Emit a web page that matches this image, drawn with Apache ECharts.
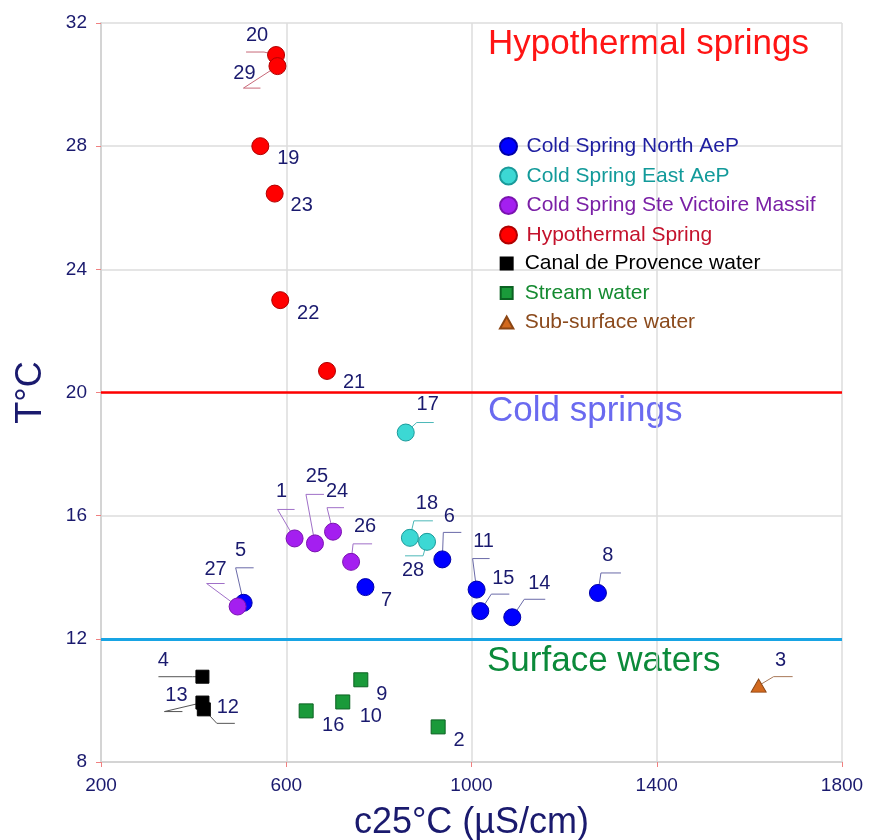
<!DOCTYPE html>
<html style="height: 100%">
<head>
<meta charset="utf-8">
</head>
<body style="height: 100%; margin: 0; background: #fff">
<div id="container" style="width: 871px; height: 840px"></div>
<script src="https://cdn.jsdelivr.net/npm/echarts@6/dist/echarts.min.js"></script>
<script type="text/javascript">
// [conductivity uS/cm, temperature C, sample id]
var northAeP = [[508, 13.17, '5'], [771, 13.68, '7'], [937, 14.58, '6'], [1011, 13.6, '11'], [1019, 12.9, '15'], [1088, 12.7, '14'], [1273, 13.49, '8']];
var eastAeP = [[858, 18.7, '17'], [867, 15.28, '18'], [904, 15.15, '28']];
var steVictoire = [[618, 15.26, '1'], [662, 15.1, '25'], [701, 15.48, '24'], [740, 14.5, '26'], [495, 13.05, '27']];
var hypothermal = [[578, 30.96, '20'], [581, 30.6, '29'], [544, 28.0, '19'], [575, 26.46, '23'], [587, 23.0, '22'], [688, 20.7, '21']];
var canal = [[419, 10.77, '4'], [419, 9.93, '13'], [422, 9.71, '12']];
var stream = [[643, 9.66, '16'], [722, 9.95, '10'], [761, 10.67, '9'], [928, 9.14, '2']];
var subSurface = [[1620, 10.48, '3']];

var hypoLimit = 20;
var surfaceLimit = 12;
var xTicks = [200, 1800, 400];
var yTicks = [8, 32, 4];

// label placement (pixel offsets from the point)
var labelOffsets = {
    '20': [-19, -20], '29': [-33, 7], '19': [28, 12], '23': [27, 12], '22': [28, 13], '21': [27, 12],
    '1': [-13, -47], '25': [2, -67], '24': [4, -40], '26': [14, -35], '7': [21, 13], '5': [-3, -52], '27': [-22, -37],
    '18': [17, -34], '28': [-14, 29], '6': [7, -43], '17': [22, -28], '11': [7, -48], '15': [23, -33], '14': [27, -34],
    '8': [10, -37], '4': [-39, -16], '13': [-26, -7], '12': [24, -2], '16': [27, 15], '10': [28, 15], '9': [21, 15],
    '2': [21, 14], '3': [22, -25]
};
// leader lines: elbow and end, pixel offsets from the point
var leaders = {
    '20': [[-12, -3], [-30, -3]], '29': [[-34, 22], [-17, 22]],
    '1': [[-17, -29], [0, -29]], '25': [[-9, -49], [9, -49]], '24': [[-6, -24], [11, -24]], '26': [[2, -18], [21, -18]],
    '5': [[-8, -35], [10, -35]], '27': [[-31, -23], [-13, -23]], '18': [[4, -17], [23, -17]], '28': [[-4, 14], [-22, 14]],
    '6': [[1, -27], [19, -27]], '17': [[11, -10], [28, -10]], '11': [[-4, -31], [13, -31]], '15': [[11, -17], [29, -17]],
    '14': [[12, -18], [33, -18]], '8': [[3, -20], [23, -20]], '4': [[-10, 0], [-44, 0]], '13': [[-38, 9], [-20, 9]],
    '12': [[13, 14], [31, 14]], '3': [[15, -9], [34, -9]]
};

var groups = [
    {name: 'Cold Spring North AeP', data: northAeP, symbol: 'circle', size: 17, color: '#0000ff', border: '#0000a8', text: '#1e1ea0', line: '#6a6aa8'},
    {name: 'Cold Spring East AeP', data: eastAeP, symbol: 'circle', size: 17, color: '#3cd8d4', border: '#1a9a9a', text: '#129a9a', line: '#4cb8b8'},
    {name: 'Cold Spring Ste Victoire Massif', data: steVictoire, symbol: 'circle', size: 17, color: '#a41ff0', border: '#7a12b0', text: '#7a20a6', line: '#a070c8'},
    {name: 'Hypothermal Spring', data: hypothermal, symbol: 'circle', size: 17, color: '#ff0000', border: '#b00000', text: '#c4122c', line: '#c86878'},
    {name: 'Canal de Provence water', data: canal, symbol: 'rect', size: 13, color: '#000000', border: '#000000', text: '#000000', line: '#555555'},
    {name: 'Stream water', data: stream, symbol: 'rect', size: 14, color: '#1a9a3a', border: '#0b6222', text: '#148a30', line: '#5a9a6a'},
    {name: 'Sub-surface water', data: subSurface, symbol: 'path://M5,0L10,9H0Z', size: [15, 13], color: '#d2691e', border: '#8b4513', text: '#8b4a1c', line: '#a87858'}
];

var navy = '#1a1a6e';
var font = '"Liberation Sans", Arial, sans-serif';

var leaderList = [];
groups.forEach(function (g) {
    g.data.forEach(function (d) {
        if (leaders[d[2]]) leaderList.push({value: [d[0], d[1]], id: d[2], color: g.line});
    });
});

var series = [{
    type: 'custom',
    name: 'leaders',
    coordinateSystem: 'cartesian2d',
    silent: true,
    z: 1,
    encode: {x: 0, y: 1},
    data: leaderList.map(function (l) { return l.value; }),
    renderItem: function (params, api) {
        var item = leaderList[params.dataIndex];
        var p = api.coord([api.value(0), api.value(1)]);
        var l = leaders[item.id];
        return {
            type: 'polyline',
            shape: {points: [p, [p[0] + l[0][0], p[1] + l[0][1]], [p[0] + l[1][0], p[1] + l[1][1]]]},
            style: {stroke: item.color, fill: null, lineWidth: 1}
        };
    },
    markLine: {
        silent: true,
        symbol: 'none',
        label: {show: false},
        data: [
            {yAxis: hypoLimit, lineStyle: {color: '#ff0000', width: 2.5, type: 'solid'}},
            {yAxis: surfaceLimit, lineStyle: {color: '#18a4e4', width: 3, type: 'solid'}}
        ]
    }
}];

groups.forEach(function (g) {
    series.push({
        type: 'scatter',
        name: g.name,
        symbol: g.symbol,
        symbolSize: g.size,
        z: 3,
        itemStyle: {color: g.color, borderColor: g.border, borderWidth: 1, opacity: 1},
        label: {
            show: true,
            position: 'inside',
            formatter: '{b}',
            color: navy,
            fontSize: 20,
            fontFamily: font
        },
        data: g.data.map(function (d) {
            return {name: d[2], value: [d[0], d[1]], label: {offset: labelOffsets[d[2]] || [0, 0]}};
        })
    });
});

var legendText = function (list) {
    return list.map(function (g) {
        return {name: g.name, icon: g.symbol === 'rect' ? 'path://M0,0h10v10h-10z' : g.symbol, textStyle: {color: g.text}};
    });
};

var chart = echarts.init(document.getElementById('container'));
var option = {
    backgroundColor: '#ffffff',
    animation: false,
    grid: {left: 101, right: 29, top: 23, bottom: 78, outerBoundsMode: 'none'},
    legend: [{
        orient: 'vertical',
        left: 494,
        top: 131,
        itemWidth: 26,
        itemHeight: 17,
        itemGap: 8.5,
        selectedMode: false,
        textStyle: {fontSize: 21, fontFamily: font},
        data: legendText(groups.slice(0, 4))
    }, {
        orient: 'vertical',
        left: 494,
        top: 248,
        itemWidth: 26,
        itemHeight: 12,
        itemGap: 8.5,
        selectedMode: false,
        textStyle: {fontSize: 21, fontFamily: font},
        data: legendText(groups.slice(4))
    }],
    xAxis: {
        type: 'value',
        min: xTicks[0],
        max: xTicks[1],
        interval: xTicks[2],
        name: 'c25°C (µS/cm)',
        nameLocation: 'middle',
        nameGap: 43,
        nameTextStyle: {color: navy, fontSize: 36, fontFamily: font},
        axisLine: {show: true, lineStyle: {color: '#d4d4d4', width: 2}},
        axisTick: {show: true, length: 5, lineStyle: {color: '#f08080'}},
        axisLabel: {color: navy, fontSize: 19, fontFamily: font, margin: 14, formatter: function (v) { return String(v); }},
        splitLine: {show: true, lineStyle: {color: '#dcdcdc', width: 1.5}}
    },
    yAxis: {
        type: 'value',
        min: yTicks[0],
        max: yTicks[1],
        interval: yTicks[2],
        name: 'T°C',
        nameLocation: 'middle',
        nameGap: 52,
        nameTextStyle: {color: navy, fontSize: 36, fontFamily: font},
        axisLine: {show: true, lineStyle: {color: '#d4d4d4', width: 2}},
        axisTick: {show: true, length: 5, lineStyle: {color: '#f08080'}},
        axisLabel: {color: navy, fontSize: 19, fontFamily: font, margin: 14},
        splitLine: {show: true, lineStyle: {color: '#dcdcdc', width: 1.5}}
    },
    graphic: [
        {type: 'text', left: 488, top: 27, style: {text: 'Hypothermal springs', fill: '#ff1414', font: '35px ' + font}},
        {type: 'text', left: 488, top: 394, style: {text: 'Cold springs', fill: '#6a6af0', font: '35px ' + font}},
        {type: 'text', left: 487, top: 644, style: {text: 'Surface waters', fill: '#0b8a3a', font: '35px ' + font}}
    ],
    series: series
};
chart.setOption(option);
</script>
</body>
</html>
